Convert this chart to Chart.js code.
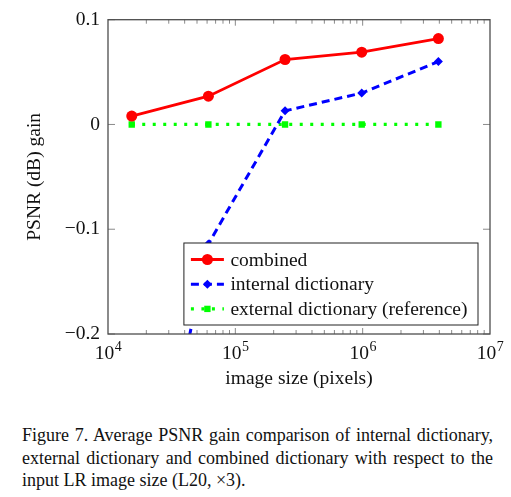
<!DOCTYPE html>
<html>
<head>
<meta charset="utf-8">
<script src="https://cdn.jsdelivr.net/npm/chart.js@4/dist/chart.umd.min.js"></script>
<style>
  body { margin: 0; background: #fff; width: 511px; height: 497px; overflow: hidden; position: relative; }
  #plot { position: absolute; left: 0; top: 0; }
  .caption {
    position: absolute; left: 22px; top: 424px; width: 471px;
    font-family: "Liberation Serif", "Times New Roman", serif;
    font-size: 18px; line-height: 22.5px; text-align: justify; color: #111;
  }
</style>
</head>
<body>
<canvas id="plot" width="511" height="400"></canvas>
<div class="caption">Figure 7. Average PSNR gain comparison of internal dictionary, external dictionary and combined dictionary with respect to the input LR image size (L20, ×3).</div>
<script>
// values
const imageSizes = [15360, 61440, 245760, 983040, 3932160];
const combinedGain = [0.008, 0.027, 0.062, 0.069, 0.082];
const internalGain = [-0.47, -0.114, 0.013, 0.030, 0.060];
const externalGain = [0, 0, 0, 0, 0];
const seriesLabels = ['combined', 'internal dictionary', 'external dictionary (reference)'];
const yTickLabels = ['\u22120.2', '\u22120.1', '0', '0.1'];
const xTickExponents = [4, 5, 6, 7];

const SERIF = '"Liberation Serif", "Times New Roman", serif';

function pts(ys) {
  return imageSizes.map((x, i) => ({ x: x, y: ys[i] }));
}

// frame, inward tick marks, 10^n labels and the legend box
const axesPlugin = {
  id: 'axesPlugin',
  afterDatasetsDraw(chart) {
    const ctx = chart.ctx;
    const a = chart.chartArea;
    const xs = chart.scales.x;
    const ys = chart.scales.y;
    ctx.save();
    ctx.strokeStyle = '#8a8a8a';
    ctx.lineWidth = 1;
    // x ticks (major + minor), top and bottom
    for (let e = xTickExponents[0]; e < xTickExponents[xTickExponents.length - 1]; e++) {
      for (let m = 1; m <= 9; m++) {
        if (m === 1 && e === xTickExponents[0]) continue;
        const px = xs.getPixelForValue(m * Math.pow(10, e));
        const len = m === 1 ? 6 : 4;
        ctx.beginPath();
        ctx.moveTo(px, a.bottom); ctx.lineTo(px, a.bottom - len);
        ctx.moveTo(px, a.top); ctx.lineTo(px, a.top + len);
        ctx.stroke();
      }
    }
    // y ticks, left and right
    ys.ticks.forEach(t => {
      const py = ys.getPixelForValue(t.value);
      ctx.beginPath();
      ctx.moveTo(a.left, py); ctx.lineTo(a.left + 7, py);
      ctx.moveTo(a.right, py); ctx.lineTo(a.right - 7, py);
      ctx.stroke();
    });
    // frame
    ctx.strokeStyle = '#4d4d4d';
    ctx.lineWidth = 1.3;
    ctx.strokeRect(a.left, a.top, a.right - a.left, a.bottom - a.top);
    // x labels 10^n
    ctx.fillStyle = '#111';
    ctx.textBaseline = 'alphabetic';
    ctx.textAlign = 'left';
    xTickExponents.forEach(e => {
      const px = xs.getPixelForValue(Math.pow(10, e));
      ctx.font = '19.5px ' + SERIF;
      const wBase = ctx.measureText('10').width;
      ctx.font = '14px ' + SERIF;
      const wExp = ctx.measureText(String(e)).width;
      const x0 = px - (wBase + wExp) / 2;
      ctx.font = '19.5px ' + SERIF;
      ctx.fillText('10', x0, a.bottom + 25);
      ctx.font = '14px ' + SERIF;
      ctx.fillText(String(e), x0 + wBase + 0.5, a.bottom + 17);
    });
    ctx.restore();
  },
  afterDraw(chart) {
    const ctx = chart.ctx;
    const a = chart.chartArea;
    ctx.save();
    ctx.font = '19.5px ' + SERIF;
    let maxW = 0;
    chart.data.datasets.forEach(ds => { maxW = Math.max(maxW, ctx.measureText(ds.label).width); });
    const bw = 47 + maxW + 10;
    const bh = 82;
    const bx = a.right - 12 - bw;
    const by = a.bottom - 9 - bh;
    ctx.fillStyle = '#fff';
    ctx.fillRect(bx, by, bw, bh);
    ctx.strokeStyle = '#222';
    ctx.lineWidth = 1;
    ctx.strokeRect(bx, by, bw, bh);
    chart.data.datasets.forEach((ds, i) => {
      const cy = by + 16.5 + i * 24.7;
      ctx.save();
      ctx.strokeStyle = ds.borderColor;
      ctx.lineWidth = ds.borderWidth;
      ctx.setLineDash(ds.borderDash || []);
      ctx.beginPath();
      ctx.moveTo(bx + 7, cy);
      ctx.lineTo(bx + 40, cy);
      ctx.stroke();
      ctx.setLineDash([]);
      ctx.fillStyle = ds.pointBackgroundColor;
      ctx.strokeStyle = ds.pointBackgroundColor;
      Chart.helpers.drawPoint(ctx, {
        pointStyle: ds.pointStyle, radius: ds.pointRadius, rotation: 0, borderWidth: 0
      }, bx + 23.5, cy);
      ctx.restore();
      ctx.fillStyle = '#111';
      ctx.textAlign = 'left';
      ctx.textBaseline = 'middle';
      ctx.fillText(ds.label, bx + 46.5, cy + 1);
    });
    ctx.restore();
  }
};

new Chart(document.getElementById('plot'), {
  type: 'line',
  data: {
    datasets: [{
      label: seriesLabels[0],
      data: pts(combinedGain),
      borderColor: '#ff0000',
      backgroundColor: '#ff0000',
      pointBackgroundColor: '#ff0000',
      borderWidth: 2.8,
      pointStyle: 'circle',
      pointRadius: 5.5,
      pointBorderWidth: 0,
      tension: 0
    }, {
      label: seriesLabels[1],
      data: pts(internalGain),
      borderColor: '#0000ff',
      backgroundColor: '#0000ff',
      pointBackgroundColor: '#0000ff',
      borderWidth: 3,
      borderDash: [8, 5],
      pointStyle: 'rectRot',
      pointRadius: 4.5,
      pointBorderWidth: 0,
      tension: 0
    }, {
      label: seriesLabels[2],
      data: pts(externalGain),
      borderColor: '#00ff00',
      backgroundColor: '#00ff00',
      pointBackgroundColor: '#00ff00',
      borderWidth: 3.2,
      borderDash: [3, 7.5],
      pointStyle: 'rect',
      pointRadius: 4.5,
      pointBorderWidth: 0,
      tension: 0
    }]
  },
  options: {
    responsive: false,
    animation: false,
    events: [],
    layout: { padding: { left: 0, top: 16, right: 21, bottom: 0 } },
    plugins: {
      legend: { display: false },
      tooltip: { enabled: false }
    },
    scales: {
      x: {
        type: 'logarithmic',
        min: 1e4,
        max: 1e7,
        grid: { display: false, drawTicks: false },
        border: { display: false },
        ticks: { display: false },
        title: {
          display: true,
          text: 'image size (pixels)',
          color: '#111',
          font: { family: SERIF, size: 19.5 },
          padding: { top: 0, bottom: 9 }
        },
        afterFit(s) { s.height = 66; }
      },
      y: {
        min: -0.2,
        max: 0.1,
        grid: { display: false, drawTicks: false },
        border: { display: false },
        ticks: {
          stepSize: 0.1,
          padding: 8,
          color: '#111',
          font: { family: SERIF, size: 19.5 },
          callback: (v, i) => yTickLabels[i]
        },
        title: {
          display: true,
          text: 'PSNR (dB) gain',
          color: '#111',
          font: { family: SERIF, size: 19.5 },
          padding: { top: 23, bottom: 0 }
        },
        afterFit(s) { s.width = 108; }
      }
    }
  },
  plugins: [axesPlugin]
});
</script>
</body>
</html>
